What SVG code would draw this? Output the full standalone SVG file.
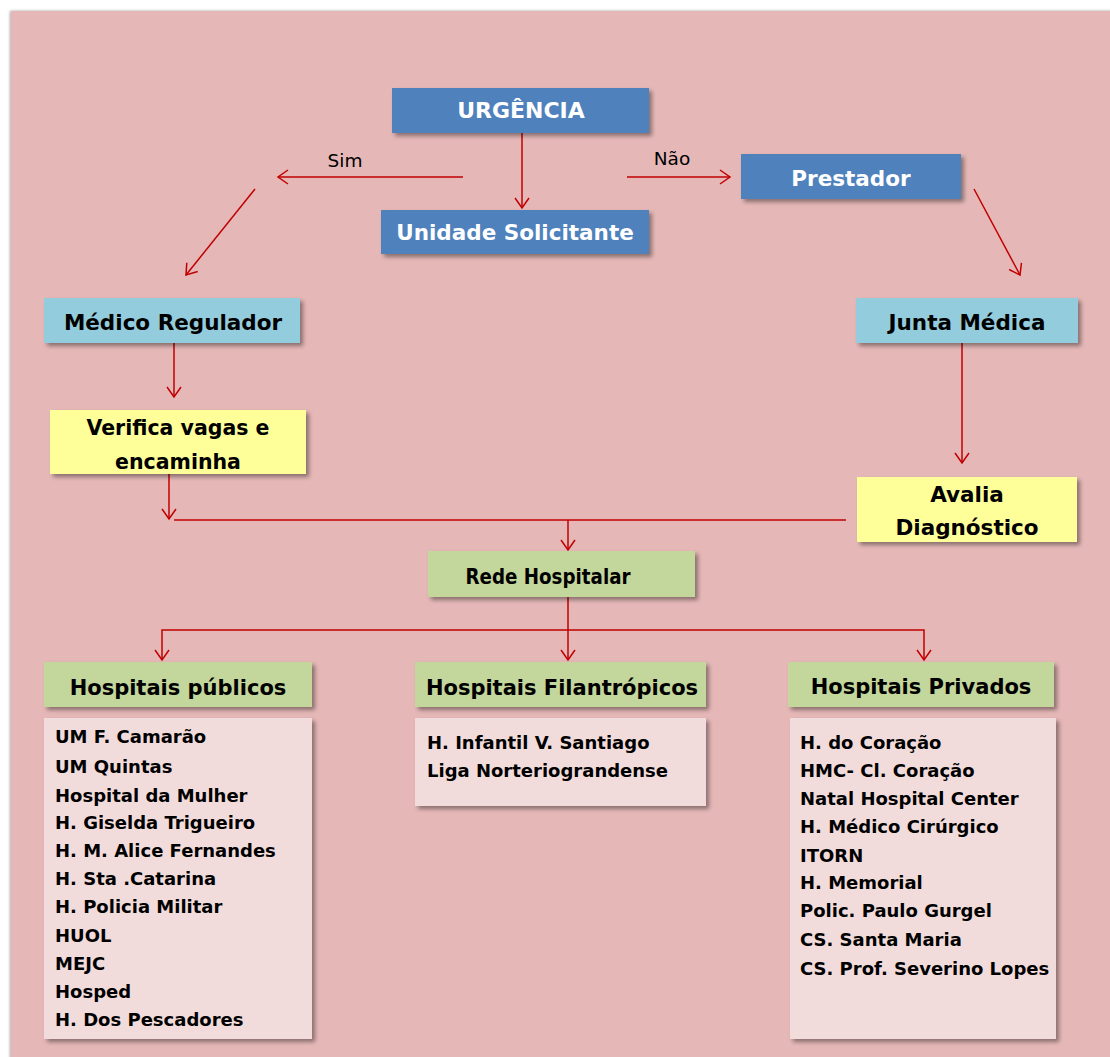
<svg xmlns="http://www.w3.org/2000/svg" width="1110" height="1057" viewBox="0 0 1110 1057">
  <defs>
    <filter id="shadow" x="-10%" y="-20%" width="130%" height="160%">
      <feDropShadow dx="3" dy="3" stdDeviation="2" flood-color="#000" flood-opacity="0.4"/>
    </filter>
    <filter id="pageShadow" x="-5%" y="-5%" width="110%" height="110%">
      <feDropShadow dx="-1" dy="0" stdDeviation="1.5" flood-color="#000" flood-opacity="0.35"/>
    </filter>
    <marker id="arrow" markerUnits="userSpaceOnUse" markerWidth="14" markerHeight="18" viewBox="-12 -9 14 18" refX="0" refY="0" orient="auto">
      <path d="M-10,-7 L0,0 L-10,7" fill="none" stroke="#C00000" stroke-width="1.5"/>
    </marker>
    <style>
      .box { filter: url(#shadow); }
      .blue { fill: #4F81BD; }
      .cyan { fill: #93CDDD; }
      .yellow { fill: #FFFF99; }
      .green { fill: #C3D69B; }
      .list { fill: #F2DCDB; }
      .t { font-family: "DejaVu Sans", "Liberation Sans", sans-serif; font-weight: bold; text-anchor: middle; fill: #000; }
      .tw { fill: #FFFFFF; }
      .t21 { font-size: 21.5px; }
      .item { font-family: "DejaVu Sans", "Liberation Sans", sans-serif; font-weight: bold; font-size: 18px; fill: #000; }
      .lbl { font-family: "DejaVu Sans", "Liberation Sans", sans-serif; font-size: 18.5px; fill: #000; text-anchor: middle; }
      .conn { fill: none; stroke: #C00000; stroke-width: 1.5; }
    </style>
  </defs>

  <!-- page -->
  <rect x="0" y="0" width="1110" height="1057" fill="#FFFFFF"/>
  <rect x="11" y="11" width="1110" height="1060" fill="#E5B8B7" filter="url(#pageShadow)"/>

  <!-- connectors -->
  <g id="connectors">
    <line class="conn" x1="522" y1="133" x2="522" y2="208" marker-end="url(#arrow)"/>
    <line class="conn" x1="463" y1="177" x2="278" y2="177" marker-end="url(#arrow)"/>
    <line class="conn" x1="627" y1="177" x2="730" y2="177" marker-end="url(#arrow)"/>
    <line class="conn" x1="255" y1="189" x2="186" y2="275" marker-end="url(#arrow)"/>
    <line class="conn" x1="974" y1="189" x2="1020" y2="275" marker-end="url(#arrow)"/>
    <line class="conn" x1="174" y1="343" x2="174" y2="397" marker-end="url(#arrow)"/>
    <line class="conn" x1="962" y1="343" x2="962" y2="463" marker-end="url(#arrow)"/>
    <line class="conn" x1="169" y1="474" x2="169" y2="519" marker-end="url(#arrow)"/>
    <line class="conn" x1="174" y1="520" x2="846" y2="520"/>
    <line class="conn" x1="568" y1="520" x2="568" y2="550" marker-end="url(#arrow)"/>
    <line class="conn" x1="568" y1="597" x2="568" y2="660" marker-end="url(#arrow)"/>
    <path class="conn" d="M568,630 H162 V660" marker-end="url(#arrow)"/>
    <path class="conn" d="M568,630 H924 V660" marker-end="url(#arrow)"/>
    <text class="lbl" x="345" y="167">Sim</text>
    <text class="lbl" x="672" y="165">Não</text>
  </g>

  <g id="urgencia">
    <rect class="box blue" x="392" y="88" width="257" height="45"/>
    <text class="t tw" x="521" y="118" font-size="22">URGÊNCIA</text>
  </g>

  <g id="unidade-solicitante">
    <rect class="box blue" x="381" y="210" width="268" height="44"/>
    <text class="t tw t21" x="515" y="240">Unidade Solicitante</text>
  </g>

  <g id="prestador">
    <rect class="box blue" x="741" y="154" width="220" height="45"/>
    <text class="t tw t21" x="851" y="186">Prestador</text>
  </g>

  <g id="medico-regulador">
    <rect class="box cyan" x="44" y="298" width="256" height="45"/>
    <text class="t t21" x="173" y="330">Médico Regulador</text>
  </g>

  <g id="junta-medica">
    <rect class="box cyan" x="856" y="298" width="222" height="45"/>
    <text class="t t21" x="967" y="330">Junta Médica</text>
  </g>

  <g id="verifica-vagas">
    <rect class="box yellow" x="50" y="410" width="256" height="64"/>
    <text class="t" x="178" y="435" font-size="20.5">Verifica vagas e</text>
    <text class="t" x="178" y="469" font-size="20.5">encaminha</text>
  </g>

  <g id="avalia-diagnostico">
    <rect class="box yellow" x="857" y="477" width="220" height="65"/>
    <text class="t t21" x="967" y="502">Avalia</text>
    <text class="t t21" x="967" y="535">Diagnóstico</text>
  </g>

  <g id="rede-hospitalar">
    <rect class="box green" x="428" y="551" width="267" height="46"/>
    <text class="t" x="548" y="584" font-size="22" textLength="165" lengthAdjust="spacingAndGlyphs">Rede Hospitalar</text>
  </g>

  <g id="hospitais-publicos">
    <rect class="box green" x="44" y="662" width="268" height="45"/>
    <text class="t" x="178" y="695" font-size="21">Hospitais públicos</text>
    <rect class="box list" x="44" y="718" width="268" height="321"/>
    <text class="item" x="55" y="743">UM F. Camarão</text>
    <text class="item" x="55" y="773">UM Quintas</text>
    <text class="item" x="55" y="802">Hospital da Mulher</text>
    <text class="item" x="55" y="829">H. Giselda Trigueiro</text>
    <text class="item" x="55" y="857">H. M. Alice Fernandes</text>
    <text class="item" x="55" y="885">H. Sta .Catarina</text>
    <text class="item" x="55" y="913">H. Policia Militar</text>
    <text class="item" x="55" y="942">HUOL</text>
    <text class="item" x="55" y="970">MEJC</text>
    <text class="item" x="55" y="998">Hosped</text>
    <text class="item" x="55" y="1026">H. Dos Pescadores</text>
  </g>

  <g id="hospitais-filantropicos">
    <rect class="box green" x="415" y="662" width="291" height="45"/>
    <text class="t" x="562" y="695" font-size="21">Hospitais Filantrópicos</text>
    <rect class="box list" x="415" y="718" width="291" height="88"/>
    <text class="item" x="427" y="749">H. Infantil V. Santiago</text>
    <text class="item" x="427" y="777">Liga Norteriograndense</text>
  </g>

  <g id="hospitais-privados">
    <rect class="box green" x="788" y="662" width="266" height="45"/>
    <text class="t" x="921" y="694" font-size="21">Hospitais Privados</text>
    <rect class="box list" x="790" y="718" width="266" height="321"/>
    <text class="item" x="800" y="749">H. do Coração</text>
    <text class="item" x="800" y="777">HMC- Cl. Coração</text>
    <text class="item" x="800" y="805">Natal Hospital Center</text>
    <text class="item" x="800" y="833">H. Médico Cirúrgico</text>
    <text class="item" x="800" y="862">ITORN</text>
    <text class="item" x="800" y="889">H. Memorial</text>
    <text class="item" x="800" y="917">Polic. Paulo Gurgel</text>
    <text class="item" x="800" y="946">CS. Santa Maria</text>
    <text class="item" x="800" y="975">CS. Prof. Severino Lopes</text>
  </g>
</svg>
